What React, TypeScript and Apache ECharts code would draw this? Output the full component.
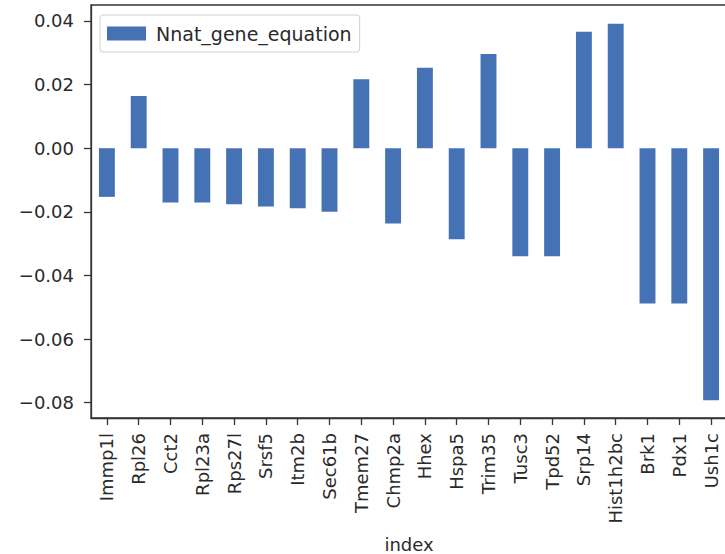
import React, { useEffect, useRef } from "react";
import * as echarts from "echarts";

const categories = [
  "Immp1l", "Rpl26", "Cct2", "Rpl23a", "Rps27l", "Srsf5", "Itm2b", "Sec61b", "Tmem27", "Chmp2a",
  "Hhex", "Hspa5", "Trim35", "Tusc3", "Tpd52", "Srp14", "Hist1h2bc", "Brk1", "Pdx1", "Ush1c",
];
const values = [
  -0.0153, 0.0164, -0.0171, -0.0171, -0.0176, -0.0183, -0.0189, -0.0200, 0.0217, -0.0237,
  0.0253, -0.0286, 0.0296, -0.0340, -0.0340, 0.0366, 0.0391, -0.0488, -0.0488, -0.0792,
];
const yTicks = [-0.08, -0.06, -0.04, -0.02, 0, 0.02, 0.04];
const seriesName = "Nnat_gene_equation";
const xName = "index";

const FONT = "DejaVu Sans";
const TEXT = "#2a2a2a";
const AXIS = "#333333";

export default function App() {
  const ref = useRef<HTMLDivElement>(null);
  useEffect(() => {
    if (!ref.current) return;
    const chart = echarts.init(ref.current, undefined, { renderer: "svg" });
    chart.setOption({
      animation: false,
      backgroundColor: "#ffffff",
      textStyle: { fontFamily: FONT },
      grid: {
        left: 91,
        top: 5,
        width: 636,
        height: 413,
        containLabel: false,
        outerBoundsMode: "none",
        show: true,
        borderColor: AXIS,
        borderWidth: 1.3,
      },
      legend: {
        left: 100,
        top: 15,
        icon: "rect",
        itemWidth: 39,
        itemHeight: 14,
        itemGap: 10,
        padding: [9, 8, 9, 7],
        borderColor: "#d0d0d0",
        borderWidth: 1,
        borderRadius: 3,
        backgroundColor: "rgba(255,255,255,0.8)",
        textStyle: { fontFamily: FONT, fontSize: 19, color: TEXT, padding: [0, 0, 0, 5] },
        data: [seriesName],
      },
      xAxis: {
        type: "category",
        data: categories,
        name: xName,
        nameLocation: "middle",
        nameGap: 117,
        nameTextStyle: { fontFamily: FONT, fontSize: 18, color: TEXT },
        axisLine: { show: true, onZero: false, lineStyle: { color: AXIS, width: 1.3 } },
        axisTick: { show: true, alignWithLabel: true, length: 7, lineStyle: { color: AXIS, width: 1.3 } },
        axisLabel: {
          rotate: 90,
          interval: 0,
          margin: 15,
          fontFamily: FONT,
          fontSize: 18,
          color: TEXT,
        },
        splitLine: { show: false },
      },
      yAxis: {
        type: "value",
        min: -0.0848,
        max: 0.045,
        axisLine: { show: true, lineStyle: { color: AXIS, width: 1.3 } },
        axisTick: { show: true, length: 7, customValues: yTicks, lineStyle: { color: AXIS, width: 1.3 } },
        axisLabel: {
          customValues: yTicks,
          margin: 17,
          fontFamily: FONT,
          fontSize: 18,
          color: TEXT,
          formatter: (v: number) => (v < -1e-9 ? "\u2212" : "") + Math.abs(v).toFixed(2),
        },
        splitLine: { show: false },
      },
      series: [
        {
          name: seriesName,
          type: "bar",
          data: values,
          barWidth: "50%",
          itemStyle: { color: "#4472b4" },
        },
      ],
    });
    return () => chart.dispose();
  }, []);
  return (
    <div
      ref={ref}
      style={{ position: "absolute", left: 0, top: 0, width: 725, height: 554 }}
    />
  );
}
